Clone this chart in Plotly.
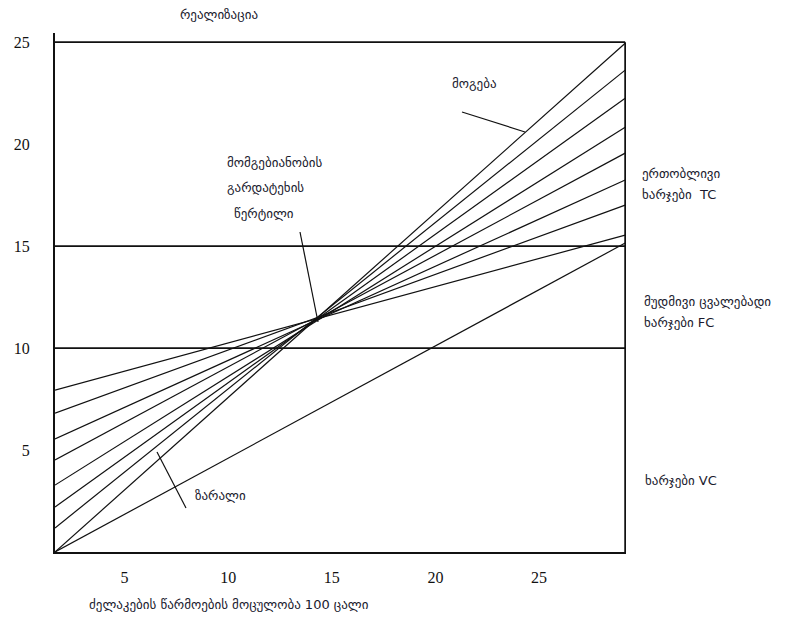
import plotly.graph_objects as go

# ---- data ----
x_edges = [1.64, 29.16]                      # x at left / right frame
tc_left = [7.94, 6.81, 5.54, 4.51, 3.28, 2.21, 1.18, 0.0]
tc_right = [15.54, 17.01, 18.24, 19.56, 20.83, 22.25, 23.63, 24.95]
vc_values = [0.0, 15.15]
fc_levels = [10, 15]
top_level = 25
x_ticks = [5, 10, 15, 20, 25]
y_ticks = [5, 10, 15, 20, 25]

OFF = 8  # page body margin of the browser
W, H = 798 - OFF, 626 - OFF
XR = [1.64, 29.2]
YR = [0, 25.45]
L, R, B, T = 55 - OFF, 626 - OFF, 552 - OFF, 33 - OFF  # plot area in figure pixels


def px_x(px):
    return XR[0] + (px - OFF - L) / (R - L) * (XR[1] - XR[0])


def px_y(py):
    return YR[0] + (B - (py - OFF)) / (B - T) * (YR[1] - YR[0])


def pap_x(px):
    return (px - OFF - L) / (R - L)


def pap_y(py):
    return (B - (py - OFF)) / (B - T)


fig = go.Figure()
line_style = dict(color="#111111", width=1.2)

for a, b in zip(tc_left, tc_right):
    fig.add_trace(go.Scatter(x=x_edges, y=[a, b], mode="lines", line=line_style,
                             hoverinfo="skip", showlegend=False))

fig.add_trace(go.Scatter(x=x_edges, y=vc_values, mode="lines", line=line_style,
                         hoverinfo="skip", showlegend=False))

for lv in fc_levels + [top_level]:
    fig.add_trace(go.Scatter(x=x_edges, y=[lv, lv], mode="lines",
                             line=dict(color="#111111", width=1.8),
                             hoverinfo="skip", showlegend=False))

# right frame line
fig.add_trace(go.Scatter(x=[x_edges[1], x_edges[1]], y=[0, top_level], mode="lines",
                         line=dict(color="#111111", width=1.8),
                         hoverinfo="skip", showlegend=False))

# pointer lines (reference pixel coordinates)
pointers = [((462, 112), (525, 132)), ((300, 232), (318, 322)), ((157, 452), (186, 508))]
for (x0, y0), (x1, y1) in pointers:
    fig.add_trace(go.Scatter(x=[px_x(x0), px_x(x1)], y=[px_y(y0), px_y(y1)], mode="lines",
                             line=dict(color="#111111", width=1.2),
                             hoverinfo="skip", showlegend=False))

gfont = dict(family="DejaVu Sans", size=13, color="#1a1a2e")
texts = [
    ("რეალიზაცია", 178, 15),
    ("მოგება", 450, 83),
    ("მომგებიანობის", 225, 163),
    ("გარდატეხის", 225, 187),
    ("წერტილი", 232, 214),
    ("ერთობლივი", 640, 173),
    ("ხარჯები  TC", 640, 195),
    ("მუდმივი ცვალებადი", 642, 301),
    ("ხარჯები FC", 642, 322),
    ("ხარჯები VC", 643, 480),
    ("ზარალი", 193, 495),
    ("ძელაკების წარმოების მოცულობა 100 ცალი", 87, 604),
]
for t, x, y in texts:
    fig.add_annotation(text=t, x=pap_x(x), y=pap_y(y), xref="paper", yref="paper",
                       xanchor="left", yanchor="middle", showarrow=False, font=gfont)

tickfont = dict(family="Liberation Serif", size=16, color="#111111")
fig.update_layout(
    width=W, height=H,
    margin=dict(l=L, r=W - R, t=T, b=H - B, autoexpand=False),
    plot_bgcolor="white", paper_bgcolor="white",
    xaxis=dict(range=XR, showgrid=False, zeroline=False, showline=True,
               linecolor="#111111", linewidth=2, tickvals=x_ticks,
               ticktext=[str(v) for v in x_ticks], ticks="", tickfont=tickfont,
               ticklabelstandoff=10, automargin=False),
    yaxis=dict(range=YR, showgrid=False, zeroline=False, showline=True,
               linecolor="#111111", linewidth=2, tickvals=y_ticks,
               ticktext=[str(v) for v in y_ticks], ticks="", tickfont=tickfont,
               ticklabelstandoff=20, automargin=False),
)

fig.write_html("out.html")
